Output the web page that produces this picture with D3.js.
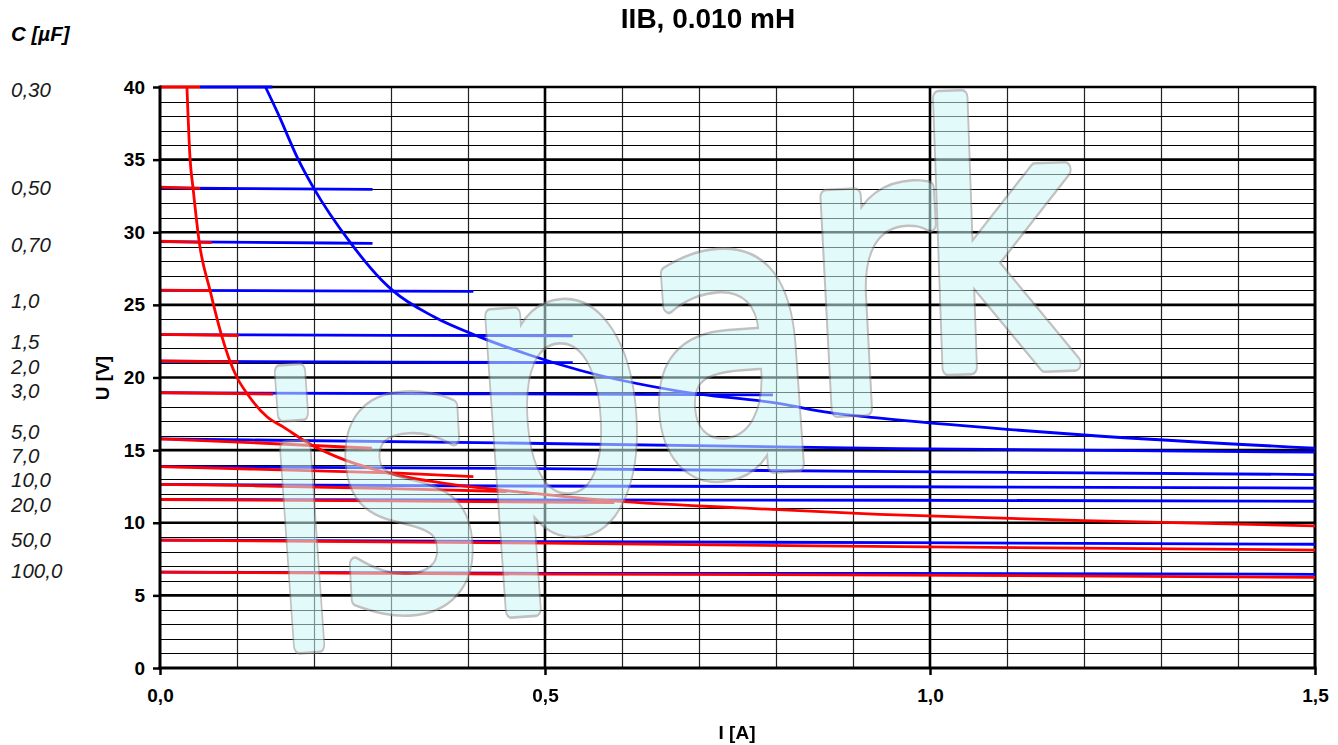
<!DOCTYPE html>
<html><head><meta charset="utf-8">
<script src="https://cdn.jsdelivr.net/npm/d3@7"></script>
<style>
html,body{margin:0;padding:0;background:#fff;}
svg{display:block;font-family:"Liberation Sans",Arial,sans-serif;}
</style></head>
<body>
<svg id="chart" width="1338" height="745"></svg>
<script>
// ---------------- DATA ----------------
const title = "IIB, 0.010 mH";
const xTicks = [0, 0.5, 1.0, 1.5];
const xTickLabels = ["0,0", "0,5", "1,0", "1,5"];
const yTicks = [0, 5, 10, 15, 20, 25, 30, 35, 40];
const yTickLabels = ["0", "5", "10", "15", "20", "25", "30", "35", "40"];

const capLabels = ["0,30","0,50","0,70","1,0","1,5","2,0","3,0","5,0","7,0","10,0","20,0","50,0","100,0"];
const capLabelU = [39.8, 33.05, 29.12, 25.27, 22.48, 20.76, 19.1, 16.28, 14.63, 12.94, 11.22, 8.81, 6.7];

// horizontal lines per capacitance, blue part [I, U]
const blueLines = [
  [[0.052,40],[0.146,40]],
  [[0,33.05],[0.12,33.0],[0.276,32.95]],
  [[0,29.35],[0.22,29.26],[0.276,29.24]],
  [[0,26.0],[0.2,25.97],[0.407,25.93]],
  [[0,22.95],[0.3,22.9],[0.536,22.87]],
  [[0,21.12],[0.3,21.06],[0.536,21.02]],
  [[0,18.95],[0.4,18.88],[0.796,18.8]],
  [[0,15.77],[0.117,15.7],[0.44,15.5],[0.96,15.1],[1.5,14.86]],
  [[0,13.86],[0.44,13.75],[0.96,13.52],[1.5,13.32]],
  [[0,12.64],[0.44,12.53],[0.96,12.48],[1.5,12.39]],
  [[0,11.6],[0.96,11.55],[1.5,11.48]],
  [[0,8.81],[0.5,8.7],[0.96,8.63],[1.5,8.52]],
  [[0,6.6],[0.5,6.52],[0.96,6.52],[1.5,6.45]]
];
// red part [I, U]
const redLines = [
  [[0,40],[0.052,40]],
  [[0,33.1],[0.052,33.02]],
  [[0,29.38],[0.067,29.28]],
  [[0,26.02],[0.067,25.98]],
  [[0,22.97],[0.102,22.89]],
  [[0,21.14],[0.102,21.07]],
  [[0,18.96],[0.147,18.86]],
  [[0,15.77],[0.117,15.52],[0.275,15.13]],
  [[0,13.86],[0.117,13.7],[0.31,13.42],[0.407,13.17]],
  [[0,12.64],[0.12,12.55],[0.3,12.35],[0.45,12.15]],
  [[0,11.6],[0.3,11.5],[0.59,11.38]],
  [[0,8.81],[0.5,8.6],[0.96,8.35],[1.5,8.12]],
  [[0,6.6],[0.5,6.46],[0.96,6.4],[1.5,6.24]]
];
// limit curves [I, U]
const redCurve = [[0.035,40],[0.039,35.1],[0.043,33.0],[0.051,29.3],[0.065,26.0],[0.08,22.9],[0.091,21.1],[0.10,20.0],[0.113,18.9],[0.139,17.3],[0.16,16.6],[0.195,15.4],[0.229,14.55],[0.281,13.63],[0.298,13.4],[0.402,12.48],[0.463,12.14],[0.571,11.57],[0.761,11.0],[0.934,10.58],[1.2,10.15],[1.5,9.78]];
const blueCurve = [[0.137,40],[0.153,38.2],[0.179,35.07],[0.20,33.0],[0.247,29.3],[0.288,26.7],[0.302,26.0],[0.355,24.2],[0.415,22.8],[0.48,21.55],[0.545,20.5],[0.675,19.05],[0.805,18.2],[0.87,17.58],[0.935,17.2],[1.1,16.43],[1.2,16.04],[1.5,15.13]];

// watermark letters (decoration)
const wmChars = ["i","s","p","a","r","k"];

// ---------------- LAYOUT ----------------
const L = 160, R = 1315, T = 87, B = 668;
const svg = d3.select("#chart");
const x = d3.scaleLinear().domain([0, 1.5]).range([L, R]);
const y = d3.scaleLinear().domain([0, 40]).range([B, T]);

// grid
const grid = svg.append("g");
const xMinor = d3.range(1, 15).map(i => i / 10).filter(v => Math.abs(v - 0.5) > 1e-6 && Math.abs(v - 1.0) > 1e-6);
const yMinor = d3.range(1, 40).filter(v => v % 5 !== 0);
grid.selectAll(".vx").data(xMinor).join("line")
  .attr("x1", d => Math.round(x(d)) + 0.5).attr("x2", d => Math.round(x(d)) + 0.5)
  .attr("y1", T).attr("y2", B).attr("stroke", "#222").attr("stroke-width", 1.2);
grid.selectAll(".hy").data(yMinor).join("line")
  .attr("y1", d => Math.round(y(d)) + 0.5).attr("y2", d => Math.round(y(d)) + 0.5)
  .attr("x1", L).attr("x2", R).attr("stroke", "#000").attr("stroke-width", 1.2);
grid.selectAll(".vX").data([0.5, 1.0]).join("line")
  .attr("x1", d => x(d)).attr("x2", d => x(d))
  .attr("y1", T).attr("y2", B).attr("stroke", "#000").attr("stroke-width", 2.6);
grid.selectAll(".hY").data(yTicks.filter(v => v > 0)).join("line")
  .attr("y1", d => y(d)).attr("y2", d => y(d))
  .attr("x1", L).attr("x2", R).attr("stroke", "#000").attr("stroke-width", 2.6);
// right border
grid.append("line").attr("x1", R).attr("x2", R).attr("y1", T - 1).attr("y2", B)
  .attr("stroke", "#000").attr("stroke-width", 3);

// series
const lineLin = d3.line().x(d => x(d[0])).y(d => y(d[1]));
const lineSm = d3.line().x(d => x(d[0])).y(d => y(d[1])).curve(d3.curveMonotoneX);
const series = svg.append("g").attr("fill", "none").attr("stroke-width", 2.8).attr("stroke-linecap", "butt");
series.selectAll(".bl").data(blueLines).join("path").attr("d", lineLin).attr("stroke", "#0000ff");
series.append("path").datum(blueCurve).attr("d", lineSm).attr("stroke", "#0000ff");
series.selectAll(".rl").data(redLines).join("path").attr("d", lineLin).attr("stroke", "#ff0000");
series.append("path").datum(redCurve).attr("d", lineSm).attr("stroke", "#ff0000");

// watermark: rounded outlined letters, translucent
const wmPos = [
  {x: 309, y: 645, s: 360, r: -4, sx: 0.64},
  {x: 413, y: 603, s: 365, r: -3, sx: 0.74},
  {x: 567, y: 525, s: 390, r: -4, sx: 0.70},
  {x: 738, y: 468, s: 380, r: -4, sx: 0.74},
  {x: 874, y: 408, s: 390, r: -3, sx: 0.82},
  {x: 1000, y: 366, s: 355, r: -2, sx: 0.74}
];
const wm = svg.append("g").attr("opacity", 0.55);
function wmLayer(stroke, width, fill) {
  wm.append("g").selectAll("text").data(wmChars).join("text")
    .attr("transform", (d, i) => `translate(${wmPos[i].x},${wmPos[i].y}) rotate(${wmPos[i].r}) scale(${wmPos[i].sx},1)`)
    .attr("text-anchor", "middle")
    .attr("font-family", "DejaVu Sans")
    .attr("font-size", (d, i) => wmPos[i].s)
    .attr("fill", fill)
    .attr("stroke", stroke).attr("stroke-width", width)
    .attr("vector-effect", "non-scaling-stroke")
    .attr("stroke-linejoin", "round")
    .text(d => d);
}
wmLayer("#8e8e8e", 15, "#8e8e8e");
wmLayer("#cdf6f6", 10.5, "#cdf6f6");

// axes
const yAxis = svg.append("g").attr("transform", `translate(${L},0)`)
  .call(d3.axisLeft(y).tickValues(yTicks).tickSize(7).tickPadding(8).tickFormat((d, i) => yTickLabels[i]));
const xAxis = svg.append("g").attr("transform", `translate(0,${B})`)
  .call(d3.axisBottom(x).tickValues(xTicks).tickSize(7).tickPadding(14).tickFormat((d, i) => xTickLabels[i]));
[yAxis, xAxis].forEach(a => {
  a.select(".domain").remove();
  a.selectAll(".tick line").attr("stroke", "#000").attr("stroke-width", 2.5);
  a.selectAll(".tick text").attr("font-family", "Liberation Sans, Arial, sans-serif")
    .attr("font-weight", "bold").attr("font-size", 19).attr("fill", "#000");
});
svg.append("line").attr("x1", L).attr("x2", L).attr("y1", T - 1.5).attr("y2", B + 1.5)
  .attr("stroke", "#000").attr("stroke-width", 3);
svg.append("line").attr("x1", L - 1.5).attr("x2", R + 1.5).attr("y1", B).attr("y2", B)
  .attr("stroke", "#000").attr("stroke-width", 3);

// titles
svg.append("text").attr("x", 708).attr("y", 28).attr("text-anchor", "middle")
  .attr("font-weight", "bold").attr("font-size", 28).text(title);
svg.append("text").attr("x", 737).attr("y", 739).attr("text-anchor", "middle")
  .attr("font-weight", "bold").attr("font-size", 19).text("I [A]");
svg.append("text").attr("transform", `translate(109,378) rotate(-90)`).attr("text-anchor", "middle")
  .attr("font-weight", "bold").attr("font-size", 19).text("U [V]");
svg.append("text").attr("x", 11).attr("y", 41)
  .attr("font-weight", "bold").attr("font-style", "italic").attr("font-size", 20.5).text("C [µF]");

// capacitance labels
svg.append("g").selectAll("text").data(capLabels).join("text")
  .attr("x", 11).attr("y", (d, i) => y(capLabelU[i])).attr("dy", "0.35em")
  .attr("font-style", "italic").attr("font-size", 20.5).attr("fill", "#1a1a1a")
  .text(d => d);
</script>
</body></html>
